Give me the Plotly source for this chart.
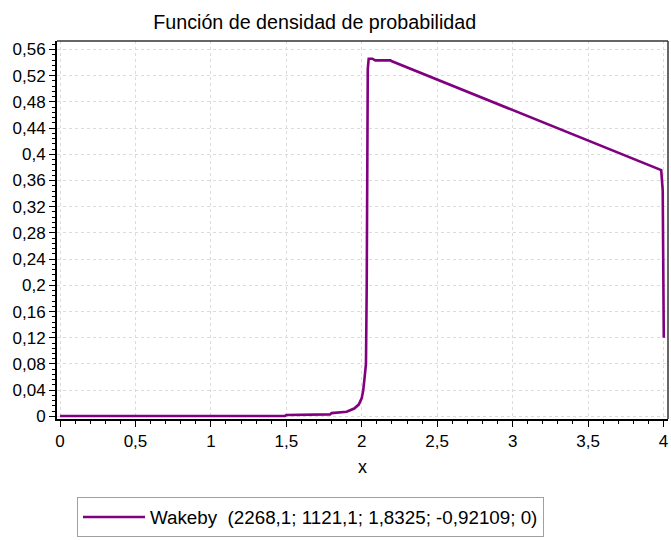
import plotly.graph_objects as go

# Density curve of the fitted Wakeby distribution
x_vals = [0.0, 1.49, 1.5, 1.79, 1.8, 1.9, 1.95, 1.98, 2.0, 2.01, 2.017, 2.028,
          2.033, 2.035, 2.04, 2.046, 2.07, 2.09, 2.1, 2.19, 2.2,
          3.985, 3.995, 4.0, 4.002]
y_vals = [0.0005, 0.0005, 0.002, 0.003, 0.005, 0.007, 0.012, 0.018, 0.028, 0.04,
          0.055, 0.08, 0.2, 0.5, 0.53, 0.546, 0.546, 0.5435, 0.5435, 0.5435, 0.542,
          0.376, 0.345, 0.2, 0.12]

series_name = "Wakeby  (2268,1; 1121,1; 1,8325; -0,92109; 0)"
chart_title = "Función de densidad de probabilidad"
x_title = "x"

x_ticks = [0, 0.5, 1, 1.5, 2, 2.5, 3, 3.5, 4]
y_ticks = [0, 0.04, 0.08, 0.12, 0.16, 0.2, 0.24, 0.28, 0.32, 0.36, 0.4,
           0.44, 0.48, 0.52, 0.56]

FONT = "Liberation Sans, Arial, sans-serif"
PURPLE = "#800080"

fig = go.Figure()
fig.add_trace(go.Scatter(
    x=x_vals, y=y_vals, mode="lines", name=series_name,
    line=dict(color=PURPLE, width=2.6),
))

axis_common = dict(
    showline=True, linecolor="black", linewidth=2,
    ticks="outside", tickcolor="black", ticklen=6, tickwidth=1,
    showgrid=True, gridcolor="#dcdcdc", gridwidth=1, griddash="dot",
    zeroline=False,
    tickfont=dict(family=FONT, size=17, color="black"),
)

fig.update_layout(
    width=671, height=540,
    margin=dict(l=57, r=3, t=41, b=108),
    paper_bgcolor="white", plot_bgcolor="white",
    separators=",.",
    font=dict(family=FONT, color="black"),
    title=dict(text=chart_title, x=0.469, xanchor="center", xref="container",
               y=1 - 22 / 540, yanchor="middle", yref="container",
               font=dict(family=FONT, size=19.7, color="black")),
    xaxis=dict(range=[-0.02, 4.03], tickvals=x_ticks,
               title=dict(text=x_title, font=dict(family=FONT, size=18), standoff=10),
               minor=dict(ticks="outside", ticklen=3, tickcolor="black", dtick=0.1,
                          showgrid=False),
               **axis_common),
    yaxis=dict(range=[-0.004, 0.573], tickvals=y_ticks,
               minor=dict(ticks="outside", ticklen=3, tickcolor="black", dtick=0.008,
                          showgrid=False),
               **axis_common),
    showlegend=True,
    legend=dict(x=(77 - 57) / 611, xanchor="left", y=(432 - 513) / 391, yanchor="top",
                bordercolor="#a0a0a0", borderwidth=1, bgcolor="white",
                font=dict(family=FONT, size=18.8, color="black"),
                itemwidth=62),
)

# thin frame on the top and right sides of the plot area
fig.add_shape(type="line", xref="paper", yref="paper", x0=0, x1=1, y0=1, y1=1,
              line=dict(color="#333333", width=1.5))
fig.add_shape(type="line", xref="paper", yref="paper", x0=1, x1=1, y0=0, y1=1,
              line=dict(color="#333333", width=1.5))

fig.write_html("out.html")
